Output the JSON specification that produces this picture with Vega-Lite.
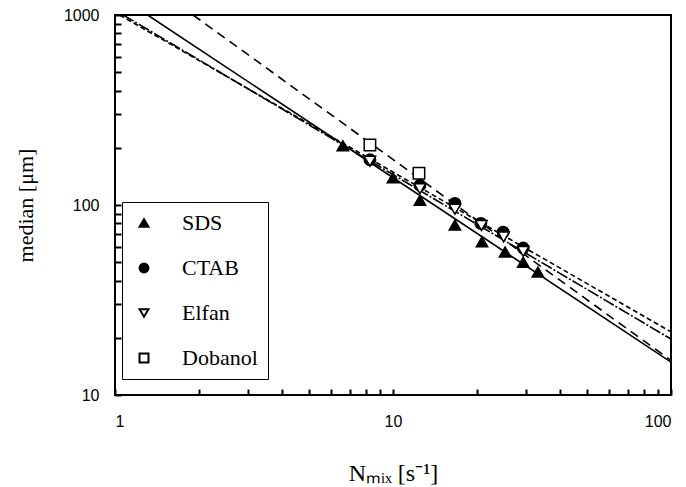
{
  "$schema": "https://vega.github.io/schema/vega-lite/v6.json",
  "width": 556,
  "height": 380,
  "autosize": {"type": "none"},
  "padding": {"left": 115, "top": 15, "right": 15, "bottom": 92},
  "background": "white",
  "config": {
    "view": {"stroke": "black", "strokeWidth": 2},
    "axis": {
      "labelFont": "Liberation Sans",
      "labelFontSize": 16,
      "labelColor": "black",
      "titleFont": "Liberation Serif",
      "titleFontWeight": "normal",
      "titleColor": "black",
      "titleFontSize": 22
    }
  },
  "datasets": {
    "fits": [
      {"surfactant": "SDS", "N": 1.31, "d": 1000},
      {"surfactant": "SDS", "N": 100, "d": 14.9},
      {"surfactant": "CTAB", "N": 1.04, "d": 1000},
      {"surfactant": "CTAB", "N": 100, "d": 21.5},
      {"surfactant": "Elfan", "N": 1.07, "d": 1000},
      {"surfactant": "Elfan", "N": 100, "d": 19.7},
      {"surfactant": "Dobanol", "N": 1.91, "d": 1000},
      {"surfactant": "Dobanol", "N": 100, "d": 15.2}
    ],
    "measured": [
      {"surfactant": "SDS", "N": 6.6, "d": 205},
      {"surfactant": "SDS", "N": 10, "d": 139},
      {"surfactant": "SDS", "N": 12.5, "d": 106},
      {"surfactant": "SDS", "N": 16.7, "d": 78.5},
      {"surfactant": "SDS", "N": 20.9, "d": 64},
      {"surfactant": "SDS", "N": 25.3, "d": 56.6},
      {"surfactant": "SDS", "N": 29.4, "d": 50},
      {"surfactant": "SDS", "N": 33.2, "d": 44.4},
      {"surfactant": "CTAB", "N": 8.26, "d": 173},
      {"surfactant": "CTAB", "N": 12.5, "d": 127},
      {"surfactant": "CTAB", "N": 16.7, "d": 102},
      {"surfactant": "CTAB", "N": 20.7, "d": 80},
      {"surfactant": "CTAB", "N": 24.9, "d": 72},
      {"surfactant": "CTAB", "N": 29.4, "d": 59.4},
      {"surfactant": "Elfan", "N": 8.26, "d": 170},
      {"surfactant": "Elfan", "N": 12.5, "d": 122},
      {"surfactant": "Elfan", "N": 16.7, "d": 95},
      {"surfactant": "Elfan", "N": 20.8, "d": 78},
      {"surfactant": "Elfan", "N": 25, "d": 68},
      {"surfactant": "Elfan", "N": 29.4, "d": 57},
      {"surfactant": "Dobanol", "N": 8.26, "d": 207},
      {"surfactant": "Dobanol", "N": 12.4, "d": 147}
    ]
  },
  "encoding": {
    "x": {
      "field": "N",
      "type": "quantitative",
      "scale": {"type": "log", "domain": [1, 100], "nice": false},
      "axis": {
        "title": "Nₘᵢₓ  [s⁻¹]",
        "titleFontSize": 24,
        "titlePadding": 32,
        "grid": false,
        "domain": false,
        "ticks": true,
        "tickColor": "black",
        "tickWidth": 2,
        "tickSize": 6,
        "offset": -6,
        "labelPadding": 18,
        "values": [1, 2, 3, 4, 5, 6, 7, 8, 9, 10, 20, 30, 40, 50, 60, 70, 80, 90, 100],
        "labelExpr": "datum.value == 1 || datum.value == 10 || datum.value == 100 ? '' + datum.value : ''"
      }
    },
    "y": {
      "field": "d",
      "type": "quantitative",
      "scale": {"type": "log", "domain": [10, 1000], "nice": false},
      "axis": {
        "title": "median [μm]",
        "titlePadding": 26,
        "grid": false,
        "domain": false,
        "ticks": true,
        "tickColor": "black",
        "tickWidth": 2,
        "tickSize": 6,
        "offset": -6,
        "labelPadding": 16,
        "values": [10, 20, 30, 40, 50, 60, 70, 80, 90, 100, 200, 300, 400, 500, 600, 700, 800, 900, 1000],
        "labelExpr": "datum.value == 10 || datum.value == 100 || datum.value == 1000 ? '' + datum.value : ''"
      }
    }
  },
  "layer": [
    {
      "data": {"name": "fits"},
      "transform": [{"filter": "datum.surfactant == 'SDS'"}],
      "mark": {"type": "line", "color": "black", "strokeWidth": 1.6, "clip": true}
    },
    {
      "data": {"name": "fits"},
      "transform": [{"filter": "datum.surfactant == 'CTAB'"}],
      "mark": {"type": "line", "color": "black", "strokeWidth": 1.6, "strokeDash": [5, 3], "clip": true}
    },
    {
      "data": {"name": "fits"},
      "transform": [{"filter": "datum.surfactant == 'Elfan'"}],
      "mark": {"type": "line", "color": "black", "strokeWidth": 1.6, "strokeDash": [12, 2, 2, 2], "clip": true}
    },
    {
      "data": {"name": "fits"},
      "transform": [{"filter": "datum.surfactant == 'Dobanol'"}],
      "mark": {"type": "line", "color": "black", "strokeWidth": 1.6, "strokeDash": [9, 6], "clip": true}
    },
    {
      "data": {"name": "measured"},
      "mark": {"type": "point", "filled": true, "strokeWidth": 1.5, "size": 130, "opacity": 1},
      "encoding": {
        "shape": {
          "field": "surfactant",
          "type": "nominal",
          "scale": {
            "domain": ["SDS", "CTAB", "Elfan", "Dobanol"],
            "range": ["triangle-up", "circle", "triangle-down", "square"]
          },
          "legend": {
            "title": null,
            "orient": "none",
            "legendX": 7,
            "legendY": 187,
            "padding": 10,
            "strokeColor": "black",
            "fillColor": "white",
            "symbolSize": 80,
            "symbolStrokeWidth": 2,
            "symbolOffset": 1,
            "labelOffset": 27,
            "labelFont": "Liberation Serif",
            "labelFontSize": 22,
            "labelColor": "black",
            "rowPadding": 23
          }
        },
        "fill": {
          "field": "surfactant",
          "type": "nominal",
          "scale": {
            "domain": ["SDS", "CTAB", "Elfan", "Dobanol"],
            "range": ["black", "black", "white", "white"]
          }
        },
        "stroke": {
          "field": "surfactant",
          "type": "nominal",
          "scale": {
            "domain": ["SDS", "CTAB", "Elfan", "Dobanol"],
            "range": ["black", "black", "black", "black"]
          }
        }
      }
    }
  ]
}
